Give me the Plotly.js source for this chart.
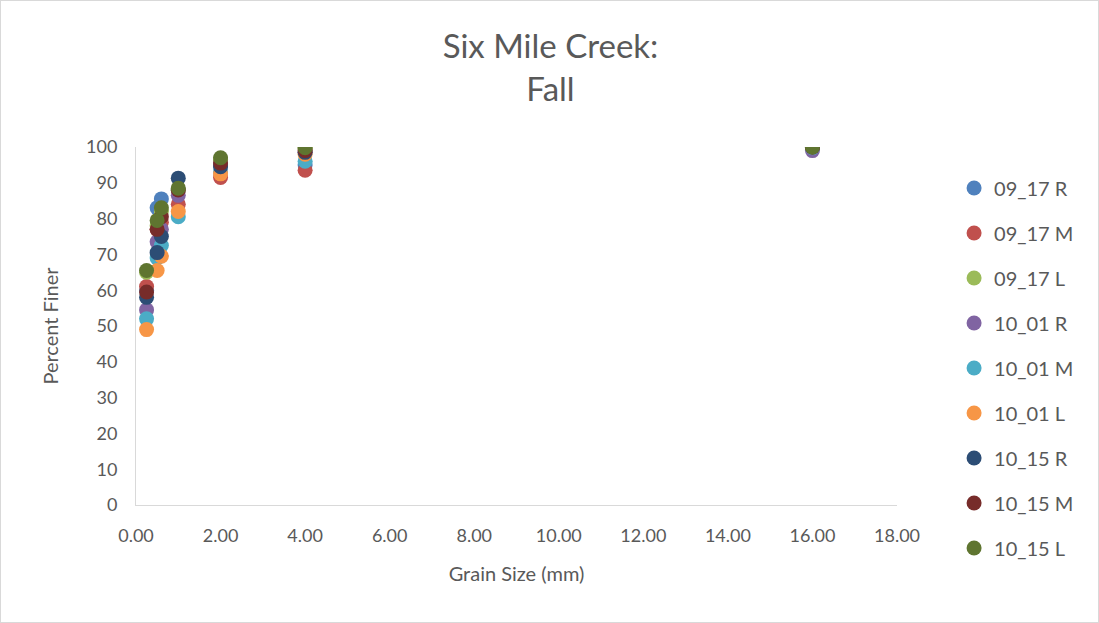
<!DOCTYPE html>
<html>
<head>
<meta charset="utf-8">
<script src="https://cdn.plot.ly/plotly-3.0.1.min.js"></script>
<style>
html,body{margin:0;padding:0;background:#fff;}
#chart{width:1099px;height:623px;box-sizing:border-box;border:1px solid #d9d9d9;}
</style>
</head>
<body>
<div id="chart"></div>
<script>
const grainSizes = [0.25, 0.5, 0.6, 1, 2, 4, 16];
const seriesNames = ["09_17 R","09_17 M","09_17 L","10_01 R","10_01 M","10_01 L","10_15 R","10_15 M","10_15 L"];
const seriesColors = ["#4F81BD","#C0504D","#9BBB59","#8064A2","#4BACC6","#F79646","#2C4D75","#772C2A","#5F7530"];
const s0917R = [60, 83, 85.5, 88, 95, 95, 99.9];
const s0917M = [61, 77, 79, 84, 91.5, 93.5, 99.8];
const s0917L = [65, 78, 82, 88, 96.5, 99.5, 100];
const s1001R = [54.5, 73.5, 77, 86.5, 95, 98.5, 99];
const s1001M = [52, 69, 72.5, 80.5, 93, 96, 99.8];
const s1001L = [49, 65.5, 69.5, 82, 92.5, 98, 100];
const s1015R = [58, 70.5, 75, 91.3, 94.5, 98.5, 100];
const s1015M = [59.5, 77, 80.5, 88, 95.5, 99, 100];
const s1015L = [65.5, 79.5, 83, 88.5, 97, 99.8, 100];
const seriesValues = [s0917R, s0917M, s0917L, s1001R, s1001M, s1001L, s1015R, s1015M, s1015L];

const FONT = "Lato, 'Open Sans', sans-serif";
const traces = seriesNames.map((n, i) => ({
  type: "scatter", mode: "markers", name: n,
  x: grainSizes, y: seriesValues[i],
  legendgroup: "g" + i,
  marker: {color: seriesColors[i], size: 15}
}));

const layout = {
  width: 1099, height: 623,
  paper_bgcolor: "rgba(0,0,0,0)", plot_bgcolor: "#fff",
  margin: {l: 135, r: 203, t: 146, b: 119},
  font: {family: FONT, color: "#595959", size: 18},
  title: {text: "Six Mile Creek:<br>Fall", x: 0.5, xanchor: "center", y: 0.908, yanchor: "top",
          font: {family: FONT, size: 33, color: "#595959"}},
  xaxis: {range: [0, 18], dtick: 2, tick0: 0, tickformat: ".2f", showgrid: false, zeroline: false,
          showline: true, linecolor: "#d9d9d9", linewidth: 1, ticks: "", ticklabelstandoff: 14,
          tickfont: {size: 18, color: "#595959"},
          title: {text: "Grain Size (mm)", font: {size: 20, color: "#595959"}, standoff: 22}},
  yaxis: {range: [0, 100], dtick: 10, showgrid: false, zeroline: false,
          showline: true, linecolor: "#d9d9d9", linewidth: 1, ticks: "", ticklabelstandoff: 14,
          tickfont: {size: 18, color: "#595959"},
          title: {text: "Percent Finer", font: {size: 20, color: "#595959"}, standoff: 22}},
  showlegend: true,
  legend: {x: 1.075, xanchor: "left", y: 0.94, yanchor: "top", tracegroupgap: 16, maxheight: 600,
           font: {size: 20, color: "#595959"}, itemwidth: 30}
};
Plotly.newPlot("chart", traces, layout, {displayModeBar: false});
</script>
</body>
</html>
